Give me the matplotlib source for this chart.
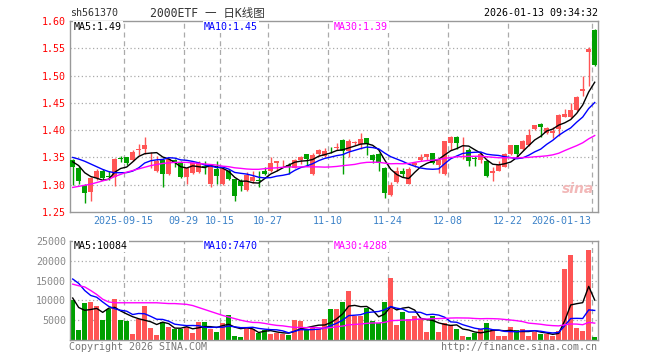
import numpy as np
import pandas as pd
import matplotlib
matplotlib.use('Agg')
import matplotlib.pyplot as plt

# ---------------- data ----------------
opens = [1.345, 1.330, 1.299, 1.286, 1.312, 1.325, 1.316, 1.315, 1.348, 1.350,
         1.345, 1.364, 1.366, 1.352, 1.326, 1.346, 1.320, 1.346, 1.341, 1.314,
         1.322, 1.323, 1.334, 1.301, 1.329, 1.301, 1.326, 1.310, 1.306, 1.290,
         1.307, 1.308, 1.326, 1.325, 1.340, 1.343, 1.337, 1.331, 1.346, 1.356,
         1.320, 1.356, 1.352, 1.366, 1.368, 1.382, 1.362, 1.377, 1.374, 1.385,
         1.354, 1.357, 1.331, 1.282, 1.305, 1.326, 1.302, 1.336, 1.345, 1.351,
         1.358, 1.337, 1.320, 1.377, 1.388, 1.365, 1.364, 1.348, 1.345, 1.344,
         1.321, 1.326, 1.333, 1.356, 1.372, 1.366, 1.372, 1.402, 1.412, 1.394,
         1.394, 1.402, 1.425, 1.424, 1.436, 1.472, 1.544, 1.584]
highs = [1.347, 1.334, 1.302, 1.314, 1.328, 1.329, 1.326, 1.349, 1.352, 1.351,
         1.363, 1.375, 1.387, 1.360, 1.352, 1.349, 1.349, 1.347, 1.343, 1.333,
         1.341, 1.344, 1.343, 1.335, 1.343, 1.330, 1.329, 1.311, 1.310, 1.323,
         1.325, 1.325, 1.332, 1.350, 1.343, 1.346, 1.340, 1.347, 1.352, 1.357,
         1.358, 1.365, 1.368, 1.370, 1.377, 1.383, 1.384, 1.381, 1.394, 1.386,
         1.357, 1.359, 1.333, 1.305, 1.332, 1.331, 1.332, 1.342, 1.357, 1.357,
         1.359, 1.347, 1.381, 1.389, 1.389, 1.387, 1.368, 1.352, 1.359, 1.345,
         1.332, 1.344, 1.359, 1.373, 1.373, 1.382, 1.402, 1.410, 1.413, 1.405,
         1.405, 1.429, 1.439, 1.449, 1.462, 1.499, 1.552, 1.585]
lows = [1.300, 1.302, 1.266, 1.270, 1.309, 1.308, 1.308, 1.297, 1.341, 1.336,
        1.344, 1.355, 1.357, 1.330, 1.324, 1.296, 1.318, 1.332, 1.312, 1.301,
        1.320, 1.322, 1.320, 1.295, 1.301, 1.300, 1.308, 1.271, 1.289, 1.288,
        1.303, 1.296, 1.317, 1.324, 1.325, 1.333, 1.320, 1.330, 1.338, 1.334,
        1.318, 1.352, 1.351, 1.358, 1.363, 1.320, 1.351, 1.373, 1.366, 1.354,
        1.339, 1.325, 1.276, 1.279, 1.304, 1.314, 1.301, 1.333, 1.343, 1.345,
        1.338, 1.322, 1.318, 1.363, 1.365, 1.347, 1.335, 1.335, 1.340, 1.314,
        1.306, 1.325, 1.332, 1.355, 1.350, 1.363, 1.371, 1.400, 1.387, 1.393,
        1.386, 1.390, 1.424, 1.423, 1.435, 1.462, 1.480, 1.518]
closes = [1.332, 1.306, 1.284, 1.312, 1.326, 1.313, 1.315, 1.348, 1.347, 1.339,
          1.360, 1.365, 1.373, 1.353, 1.343, 1.320, 1.347, 1.341, 1.314, 1.331,
          1.340, 1.339, 1.333, 1.334, 1.316, 1.329, 1.310, 1.279, 1.298, 1.317,
          1.314, 1.307, 1.320, 1.340, 1.343, 1.344, 1.333, 1.346, 1.350, 1.347,
          1.355, 1.363, 1.361, 1.365, 1.369, 1.362, 1.380, 1.378, 1.383, 1.374,
          1.346, 1.339, 1.284, 1.299, 1.326, 1.319, 1.329, 1.340, 1.350, 1.357,
          1.340, 1.346, 1.380, 1.388, 1.377, 1.366, 1.343, 1.347, 1.356, 1.316,
          1.326, 1.337, 1.357, 1.372, 1.356, 1.381, 1.392, 1.409, 1.406, 1.404,
          1.399, 1.428, 1.430, 1.436, 1.461, 1.475, 1.548, 1.519]
volumes = [10000, 2500, 9300, 9600, 8500, 5000, 7750, 10400, 5000, 4750,
           1500, 5200, 8500, 3100, 1250, 4500, 3300, 2900, 2900, 3200,
           1800, 4600, 4500, 2750, 2100, 4200, 6250, 1000, 750, 3300,
           2750, 1650, 2650, 1500, 1650, 1600, 1250, 5000, 4800, 2900,
           3300, 2750, 5200, 7750, 7750, 9600, 12500, 6100, 6100, 8100,
           4800, 4200, 9600, 15600, 3750, 7100, 5250, 6100, 5200, 2100,
           6100, 2100, 4200, 3900, 2750, 1000, 750, 1750, 2750, 4200,
           2650, 1000, 1000, 3300, 2650, 2750, 1000, 2100, 1500, 1500,
           1000, 2250, 18000, 21500, 3100, 2300, 22800, 720]

# moving-average values at the start of the window (read from the chart,
# where the displayed candles alone do not cover the averaging period)
ma5_head = [1.342, 1.335, 1.322, 1.315]
ma10_head = [1.350, 1.347, 1.343, 1.338, 1.333, 1.328, 1.324, 1.322, 1.322]
ma30_head = [1.295, 1.297, 1.299, 1.301, 1.304, 1.307, 1.310, 1.315, 1.319, 1.323,
             1.326, 1.329, 1.332, 1.335, 1.337, 1.339, 1.340, 1.341, 1.341, 1.341,
             1.340, 1.339, 1.338, 1.337, 1.336, 1.334, 1.333, 1.331, 1.330]
vma5_head = [10600, 8200, 7500, 7700]
vma10_head = [15400, 14300, 12500, 11250, 10800, 9600, 8500, 7900, 7500]
vma30_head = [14100, 13700, 13400, 12500, 11500, 10300, 9600, 9400, 9400, 9400,
              9400, 9400, 9400, 9400, 9400, 9300, 9200, 9200, 9100, 9000,
              8700, 8200, 7700, 7200, 6700, 6200, 5800, 5400, 5000]

tick_idx = [9, 19, 25, 33, 43, 53, 63, 73, 87]
tick_labels = ['2025-09-15', '09-29', '10-15', '10-27', '11-10', '11-24',
               '12-08', '12-22', '2026-01-13']
price_ticks = [1.25, 1.30, 1.35, 1.40, 1.45, 1.50, 1.55, 1.60]
vol_ticks = [5000, 10000, 15000, 20000, 25000]

code = 'sh561370'
title = '2000ETF 一 日K线图'
stamp = '2026-01-13 09:34:32'
ma_price_labels = ['MA5:1.49', 'MA10:1.45', 'MA30:1.39']
ma_vol_labels = ['MA5:10084', 'MA10:7470', 'MA30:4288']

# ---------------- helpers ----------------
def moving(values, n, head):
    s = pd.Series(values, dtype=float).rolling(n).mean().to_numpy()
    s[:len(head)] = head
    return s

RED = '#FF5555'
GREEN = '#00A000'
GRID = '#AAAAAA'
MONO = ['DejaVu Sans Mono', 'Noto Sans CJK SC']
FS = 7.2

o = np.array(opens); h = np.array(highs); l = np.array(lows); c = np.array(closes)
v = np.array(volumes, dtype=float)
x = np.arange(len(c))
up = c >= o
cols = np.where(up, RED, GREEN)

W, H = 660, 360
fig = plt.figure(figsize=(6.6, 3.6), dpi=100)
fig.patch.set_facecolor('white')

ax = fig.add_axes([70 / W, 1 - 212 / H, 528 / W, 191 / H])
axv = fig.add_axes([70 / W, 1 - 340 / H, 528 / W, 99 / H])

for a in (ax, axv):
    a.set_xlim(-0.45, len(c) - 0.45)
    for s in a.spines.values():
        s.set_color('#999999')
        s.set_linewidth(1.0)
    a.tick_params(length=0)
    for t in tick_idx:
        a.axvline(t - 0.5, color=GRID, lw=0.9, ls=(0, (4, 3)), zorder=0)

# ---------- price panel ----------
ax.set_ylim(1.25, 1.60)
ax.set_yticks(price_ticks)
ax.set_yticklabels(['%.2f' % p for p in price_ticks], color='#FF0000',
                   family=MONO, fontsize=FS)
ax.tick_params(axis='y', pad=3)
for p in price_ticks[1:-1]:
    ax.axhline(p, color=GRID, lw=0.9, ls=(0, (1, 2)), zorder=0)

ax.vlines(x, l, h, colors=cols, lw=1.0, zorder=2)
body = np.maximum(np.abs(c - o), 0.0012)
ax.bar(x, body, bottom=np.minimum(o, c), width=0.78, color=cols,
       edgecolor='none', zorder=3)

ax.plot(x, moving(closes, 5, ma5_head), color='black', lw=1.0, zorder=4)
ax.plot(x, moving(closes, 10, ma10_head), color='#0000FF', lw=1.0, zorder=4)
ax.plot(x, moving(closes, 30, ma30_head), color='#FF00FF', lw=1.0, zorder=4)

ax.set_xticks([t - 0.5 for t in tick_idx])
ax.set_xticklabels(tick_labels, color='#3C82C8', family=MONO, fontsize=FS)
ax.tick_params(axis='x', pad=3)
lbls = ax.get_xticklabels()
lbls[-1].set_ha('right')

bb = dict(facecolor='white', edgecolor='none', pad=0.5)
for txt, xp, col in zip(ma_price_labels, [74, 204, 334], ['black', '#0000FF', '#FF00FF']):
    fig.text(xp / W, 1 - 27 / H, txt, color=col, family=MONO, fontsize=FS,
             va='center', ha='left', bbox=bb, zorder=10)

# ---------- volume panel ----------
axv.set_ylim(0, 25000)
axv.set_yticks(vol_ticks)
axv.set_yticklabels([str(t) for t in vol_ticks], color='#888888',
                    family=MONO, fontsize=FS)
axv.tick_params(axis='y', pad=3)
axv.set_xticks([])
for t in vol_ticks[:-1]:
    axv.axhline(t, color=GRID, lw=0.9, ls=(0, (1, 2)), zorder=0)
axv.bar(x, v, width=0.8, color=cols, edgecolor='none', zorder=2)
axv.plot(x, moving(volumes, 5, vma5_head), color='black', lw=1.0, zorder=4)
axv.plot(x, moving(volumes, 10, vma10_head), color='#0000FF', lw=1.0, zorder=4)
axv.plot(x, moving(volumes, 30, vma30_head), color='#FF00FF', lw=1.0, zorder=4)
for txt, xp, col in zip(ma_vol_labels, [74, 204, 334], ['black', '#0000FF', '#FF00FF']):
    fig.text(xp / W, 1 - 246 / H, txt, color=col, family=MONO, fontsize=FS,
             va='center', ha='left', bbox=bb, zorder=10)

# ---------- header / footer ----------
fig.text(70 / W, 1 - 13 / H, code, color='#333333', family=MONO, fontsize=FS,
         va='center', ha='left')
fig.text(150 / W, 1 - 13 / H, title, color='#333333', family=MONO, fontsize=8.3,
         va='center', ha='left')
fig.text(598 / W, 1 - 13 / H, stamp, color='black', family=MONO, fontsize=FS,
         va='center', ha='right')
fig.text(69 / W, 1 - 347 / H, 'Copyright 2026 SINA.COM', color='#777777',
         family=MONO, fontsize=FS, va='center', ha='left')
fig.text(597 / W, 1 - 347 / H, 'http://finance.sina.com.cn', color='#777777',
         family=MONO, fontsize=FS, va='center', ha='right')
fig.text(594 / W, 1 - 189 / H, 'sina', color='#F2B8B8', fontsize=10,
         style='italic', weight='bold', va='center', ha='right', zorder=1)

fig.savefig('out.png', dpi=100, facecolor='white')
